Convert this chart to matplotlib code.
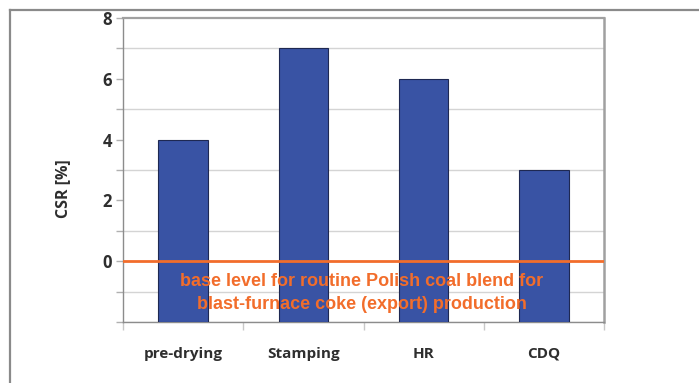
import matplotlib
matplotlib.use('Agg')
import matplotlib.pyplot as plt
from matplotlib.lines import Line2D
import numpy as np

categories = ['pre-drying', 'Stamping', 'HR', 'CDQ']
csr_gain = [4, 7, 6, 3]
y_min, y_max = -2, 8
base_note = 'base level for routine Polish coal blend for\nblast-furnace coke (export) production'

bar_color = '#3953a4'
orange = '#f26d2b'
label_color = '#2e2e2e'

fig = plt.figure(figsize=(6.99, 3.83), dpi=100)
W, H = 699, 383
ax = fig.add_axes([123 / W, (H - 322) / H, (604 - 123) / W, (322 - 18) / H])

x = np.arange(1, len(categories) + 1)
heights = np.array(csr_gain) - y_min
ax.bar(x, heights, bottom=y_min, width=0.41, color=bar_color,
       edgecolor='#1e2852', linewidth=0.8, zorder=3)

ax.set_xlim(0.5, len(categories) + 0.5)
ax.set_ylim(y_min, y_max)

# grid every unit, labels every two
ax.set_yticks(np.arange(0, y_max + 1, 2))
ax.set_yticks(np.arange(y_min, y_max + 1, 1), minor=True)
ax.yaxis.grid(True, which='minor', color='#d4d4d4', linewidth=1, zorder=0)
ax.tick_params(axis='y', which='both', length=5, color='#b0b0b0', width=1)
ax.tick_params(axis='y', which='major', pad=3)
for lbl in ax.get_yticklabels():
    lbl.set_fontfamily('Open Sans')
    lbl.set_fontweight('bold')
    lbl.set_fontsize(12)
    lbl.set_color(label_color)

ax.set_xticks(x)
ax.set_xticklabels(categories, fontfamily='Open Sans', fontweight='bold',
                   fontsize=11, color=label_color)
ax.set_xticks(np.arange(0.5, len(categories) + 1, 1), minor=True)
ax.tick_params(axis='x', which='major', length=0, pad=18)
ax.tick_params(axis='x', which='minor', length=6, color='#c8c8c8', width=1)

ax.set_ylabel('CSR [%]', fontfamily='Open Sans', fontweight='bold',
              fontsize=11.5, color=label_color)
ax.yaxis.set_label_coords(-0.108, 0.44)

for side in ['left', 'bottom']:
    ax.spines[side].set_color('#8c8c8c')
    ax.spines[side].set_linewidth(1)
ax.spines['top'].set_color('#a0a0a0')
ax.spines['top'].set_linewidth(1.6)
ax.spines['right'].set_color('#a0a0a0')
ax.spines['right'].set_linewidth(1.8)

# reference line for the base blend
ax.axhline(0, color=orange, linewidth=2, zorder=4)
ax.text(0.497, -1.06, base_note, transform=ax.get_yaxis_transform(),
        ha='center', va='center', fontfamily='Liberation Sans',
        fontweight='bold', fontsize=13, color=orange,
        linespacing=1.45, zorder=5)

# outer frame
fig.add_artist(Line2D([10 / W, 10 / W], [0, (H - 10) / H],
                      transform=fig.transFigure, color='#8a8a8a', linewidth=1.6))
fig.add_artist(Line2D([10 / W, 1], [(H - 10) / H, (H - 10) / H],
                      transform=fig.transFigure, color='#8a8a8a', linewidth=1.6))

fig.savefig('out.png', dpi=100)
